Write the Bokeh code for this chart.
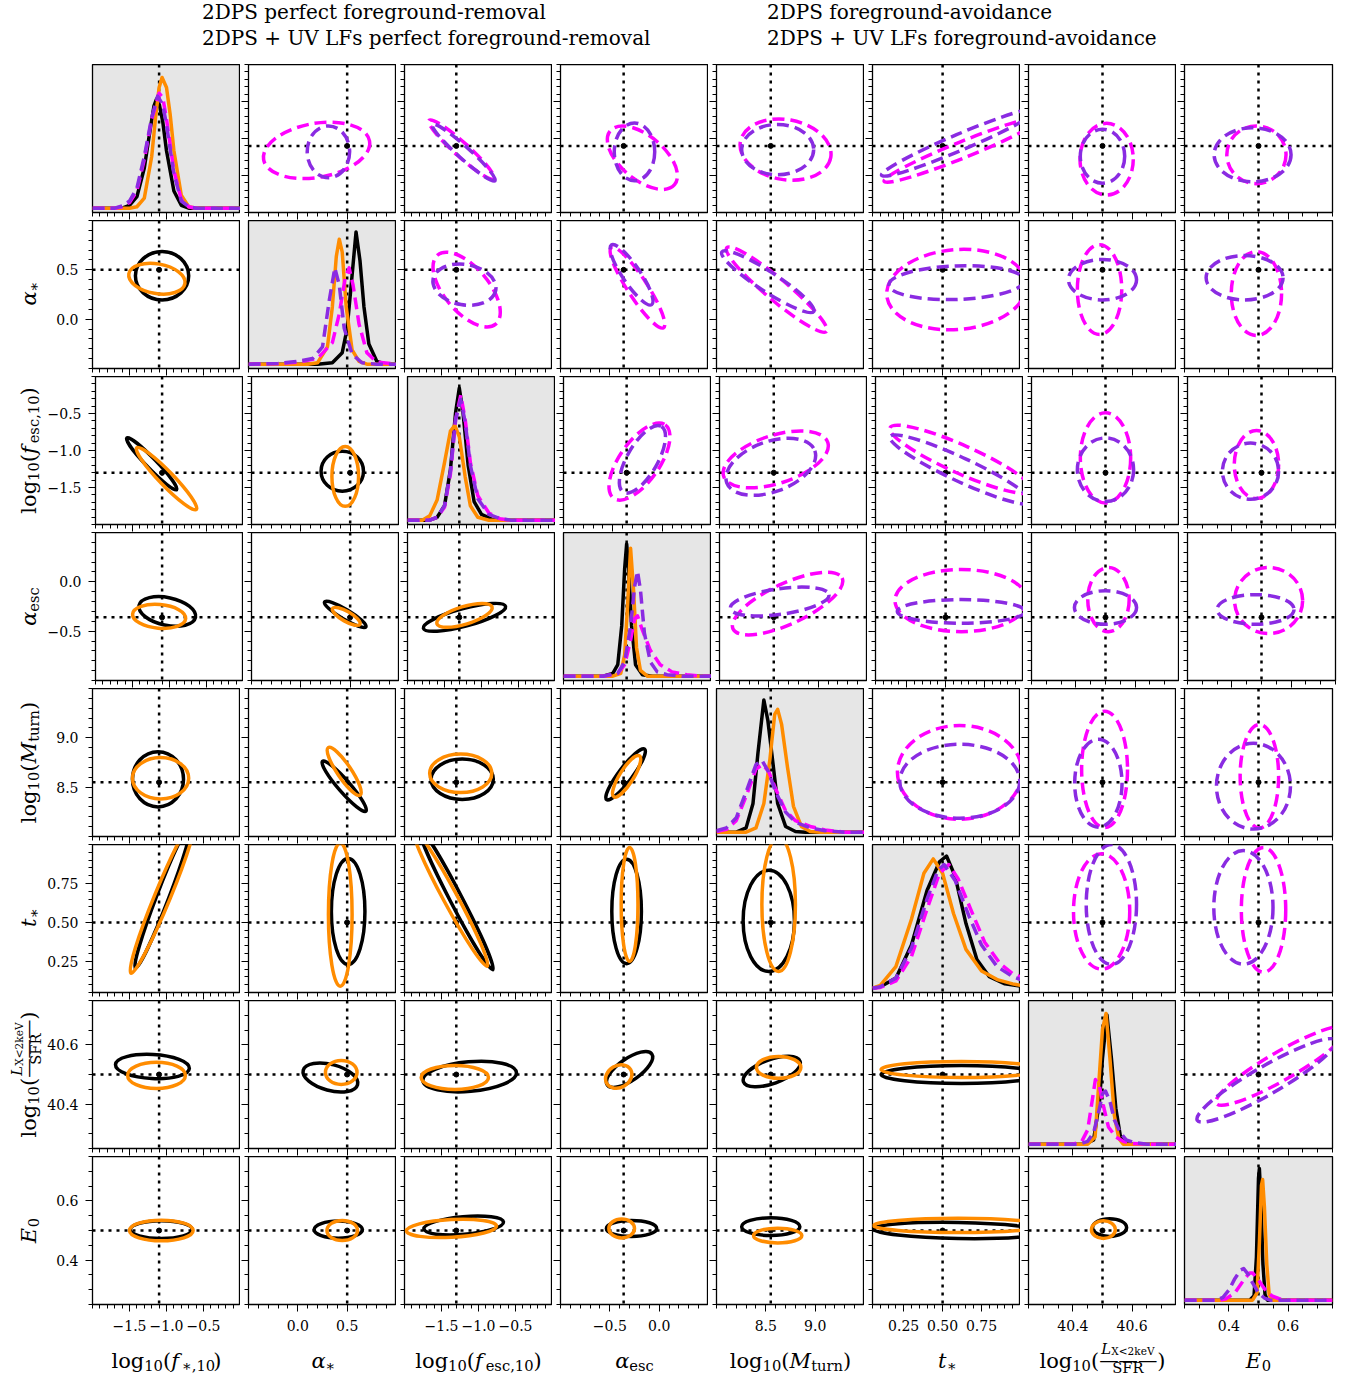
import math
from bokeh.plotting import figure
from bokeh.layouts import column, row
from bokeh.models import Range1d, FixedTicker, Span, Label, Legend, LegendItem
from bokeh.embed import file_html
from bokeh.resources import INLINE

# ---------------- parameters / axes ----------------
lo = [-2.0, -0.5, -2.0, -1.0, 8.0, 0.05, 40.25, 0.25]
hi = [0.0, 1.0, 0.0, 0.5, 9.5, 1.0, 40.75, 0.75]
truth = [-1.1, 0.5, -1.3, -0.36, 8.55, 0.5, 40.5, 0.5]
major_ticks = [[-1.5, -1.0, -0.5], [0.0, 0.5], [-1.5, -1.0, -0.5], [-0.5, 0.0],
               [8.5, 9.0], [0.25, 0.5, 0.75], [40.4, 40.6], [0.4, 0.6]]
major_labels = [["−1.5", "−1.0", "−0.5"], ["0.0", "0.5"], ["−1.5", "−1.0", "−0.5"], ["−0.5", "0.0"],
                ["8.5", "9.0"], ["0.25", "0.50", "0.75"], ["40.4", "40.6"], ["0.4", "0.6"]]
minor_step = [0.1, 0.1, 0.1, 0.1, 0.1, 0.05, 0.05, 0.05]

legend_labels = ["2DPS perfect foreground-removal",
                 "2DPS + UV LFs perfect foreground-removal",
                 "2DPS foreground-avoidance",
                 "2DPS + UV LFs foreground-avoidance"]

# ---------------- 1D marginals (diagonal) ----------------
pdf_black_x = [
    [-2.0, -1.6, -1.5, -1.4, -1.3, -1.22, -1.17, -1.135, -1.1, -1.05, -1.0, -0.9, -0.8, -0.7, 0.0],
    [-0.5, 0.2, 0.35, 0.45, 0.5, 0.55, 0.59, 0.63, 0.67, 0.72, 0.8, 0.9, 1.0],
    [-2.0, -1.7, -1.6, -1.5, -1.42, -1.35, -1.3, -1.25, -1.18, -1.1, -1.0, -0.85, -0.7, 0.0],
    [-1.0, -0.6, -0.5, -0.45, -0.41, -0.38, -0.36, -0.34, -0.31, -0.27, -0.2, -0.1, 0.5],
    [8.0, 8.2, 8.3, 8.37, 8.42, 8.48, 8.52, 8.56, 8.62, 8.7, 8.8, 8.9, 9.5],
    [0.05, 0.1, 0.2, 0.3, 0.4, 0.48, 0.525, 0.58, 0.65, 0.72, 0.8, 0.9, 1.0],
    [40.25, 40.44, 40.47, 40.49, 40.5, 40.515, 40.53, 40.545, 40.56, 40.58, 40.6, 40.75],
    [0.25, 0.47, 0.485, 0.493, 0.5, 0.503, 0.508, 0.515, 0.522, 0.53, 0.75],
]
pdf_black_y = [
    [0, 0, 0.02, 0.08, 0.28, 0.55, 0.71, 0.76, 0.73, 0.60, 0.40, 0.12, 0.02, 0, 0],
    [0, 0, 0.01, 0.08, 0.25, 0.62, 0.92, 0.72, 0.40, 0.14, 0.02, 0, 0],
    [0, 0, 0.02, 0.10, 0.35, 0.75, 0.92, 0.75, 0.38, 0.13, 0.04, 0.005, 0, 0],
    [0, 0, 0.02, 0.08, 0.35, 0.75, 0.92, 0.75, 0.35, 0.08, 0.01, 0, 0],
    [0, 0, 0.03, 0.2, 0.55, 0.92, 0.78, 0.55, 0.2, 0.04, 0.005, 0, 0],
    [0.0, 0.01, 0.07, 0.3, 0.68, 0.88, 0.92, 0.78, 0.45, 0.2, 0.08, 0.03, 0.015],
    [0, 0, 0.03, 0.3, 0.6, 0.9, 0.6, 0.25, 0.06, 0.01, 0, 0],
    [0, 0, 0.03, 0.3, 0.85, 0.916, 0.7, 0.25, 0.04, 0, 0],
]
pdf_orange_x = [
    [-2.0, -1.5, -1.4, -1.3, -1.2, -1.15, -1.1, -1.06, -1.0, -0.95, -0.9, -0.8, -0.7, -0.6, 0.0],
    [-0.5, 0.1, 0.2, 0.3, 0.35, 0.39, 0.42, 0.45, 0.49, 0.55, 0.62, 0.7, 1.0],
    [-2.0, -1.8, -1.7, -1.6, -1.5, -1.42, -1.36, -1.3, -1.22, -1.15, -1.05, -0.9, 0.0],
    [-1.0, -0.5, -0.42, -0.38, -0.35, -0.32, -0.29, -0.26, -0.22, -0.15, 0.5],
    [8.0, 8.3, 8.4, 8.48, 8.54, 8.59, 8.62, 8.66, 8.72, 8.78, 8.86, 8.95, 9.05, 9.5],
    [0.05, 0.1, 0.2, 0.3, 0.38, 0.44, 0.5, 0.57, 0.65, 0.75, 0.85, 0.95, 1.0],
    [40.25, 40.45, 40.475, 40.49, 40.5, 40.512, 40.525, 40.54, 40.555, 40.57, 40.75],
    [0.25, 0.48, 0.495, 0.503, 0.51, 0.514, 0.52, 0.528, 0.536, 0.545, 0.75],
]
pdf_orange_y = [
    [0, 0, 0.01, 0.07, 0.36, 0.62, 0.84, 0.91, 0.84, 0.65, 0.40, 0.09, 0.01, 0, 0],
    [0, 0, 0.01, 0.12, 0.40, 0.75, 0.87, 0.78, 0.40, 0.10, 0.02, 0, 0],
    [0, 0, 0.03, 0.14, 0.40, 0.62, 0.66, 0.58, 0.30, 0.10, 0.02, 0, 0],
    [0, 0, 0.02, 0.15, 0.5, 0.89, 0.6, 0.2, 0.04, 0, 0],
    [0, 0, 0.03, 0.2, 0.5, 0.82, 0.855, 0.75, 0.45, 0.18, 0.04, 0.005, 0, 0],
    [0.0, 0.02, 0.15, 0.48, 0.8, 0.9, 0.8, 0.52, 0.27, 0.12, 0.06, 0.03, 0.02],
    [0, 0, 0.05, 0.5, 0.8, 0.91, 0.6, 0.2, 0.04, 0, 0],
    [0, 0, 0.05, 0.4, 0.8, 0.84, 0.65, 0.25, 0.04, 0, 0],
]
pdf_magenta_x = [
    [-2.0, -1.7, -1.6, -1.5, -1.4, -1.3, -1.2, -1.1, -1.05, -1.0, -0.9, -0.8, -0.7, -0.6, 0.0],
    [-0.5, -0.2, 0.0, 0.2, 0.35, 0.42, 0.48, 0.52, 0.56, 0.62, 0.7, 0.8, 1.0],
    [-2.0, -1.7, -1.6, -1.5, -1.42, -1.35, -1.28, -1.22, -1.15, -1.05, -0.9, -0.75, -0.6, 0.0],
    [-1.0, -0.6, -0.45, -0.38, -0.32, -0.28, -0.25, -0.2, -0.12, -0.02, 0.1, 0.25, 0.4, 0.5],
    [8.0, 8.1, 8.2, 8.3, 8.4, 8.47, 8.53, 8.6, 8.7, 8.8, 8.95, 9.1, 9.3, 9.5],
    [0.05, 0.1, 0.2, 0.3, 0.4, 0.48, 0.54, 0.6, 0.68, 0.77, 0.87, 0.95, 1.0],
    [40.25, 40.4, 40.43, 40.45, 40.465, 40.476, 40.49, 40.505, 40.52, 40.545, 40.57, 40.6, 40.65, 40.75],
    [0.25, 0.37, 0.39, 0.42, 0.45, 0.47, 0.48, 0.5, 0.52, 0.545, 0.57, 0.6, 0.75],
]
pdf_magenta_y = [
    [0, 0, 0.01, 0.04, 0.12, 0.34, 0.62, 0.80, 0.77, 0.62, 0.26, 0.06, 0.01, 0, 0],
    [0, 0.005, 0.015, 0.04, 0.15, 0.35, 0.6, 0.67, 0.55, 0.28, 0.08, 0.015, 0],
    [0, 0, 0.02, 0.09, 0.32, 0.7, 0.87, 0.7, 0.4, 0.17, 0.05, 0.01, 0, 0],
    [0, 0, 0.02, 0.08, 0.25, 0.4, 0.42, 0.32, 0.18, 0.08, 0.03, 0.01, 0, 0],
    [0.005, 0.02, 0.08, 0.25, 0.44, 0.47, 0.42, 0.3, 0.15, 0.08, 0.04, 0.015, 0, 0],
    [0.0, 0.005, 0.05, 0.22, 0.55, 0.8, 0.86, 0.76, 0.55, 0.32, 0.17, 0.1, 0.08],
    [0, 0, 0.02, 0.1, 0.3, 0.45, 0.4, 0.25, 0.12, 0.05, 0.02, 0.005, 0, 0],
    [0, 0, 0.01, 0.05, 0.14, 0.19, 0.19, 0.14, 0.08, 0.03, 0.01, 0, 0],
]
pdf_purple_x = [
    [-2.0, -1.7, -1.6, -1.5, -1.4, -1.3, -1.2, -1.12, -1.05, -1.0, -0.9, -0.8, -0.7, -0.6, 0.0],
    [-0.5, -0.2, 0.0, 0.15, 0.25, 0.32, 0.375, 0.42, 0.47, 0.55, 0.65, 0.8, 1.0],
    [-2.0, -1.7, -1.6, -1.5, -1.42, -1.35, -1.28, -1.22, -1.15, -1.05, -0.9, -0.75, -0.6, 0.0],
    [-1.0, -0.6, -0.45, -0.38, -0.32, -0.28, -0.25, -0.22, -0.18, -0.12, -0.05, 0.05, 0.2, 0.5],
    [8.0, 8.1, 8.2, 8.3, 8.4, 8.46, 8.52, 8.6, 8.7, 8.8, 8.95, 9.1, 9.3, 9.5],
    [0.05, 0.1, 0.2, 0.3, 0.4, 0.47, 0.51, 0.58, 0.67, 0.75, 0.85, 0.95, 1.0],
    [40.25, 40.42, 40.45, 40.47, 40.49, 40.5, 40.51, 40.525, 40.54, 40.56, 40.58, 40.61, 40.65, 40.75],
    [0.25, 0.36, 0.38, 0.4, 0.42, 0.44, 0.45, 0.465, 0.48, 0.5, 0.52, 0.54, 0.75],
]
pdf_purple_y = [
    [0, 0, 0.015, 0.05, 0.14, 0.36, 0.63, 0.78, 0.72, 0.58, 0.24, 0.05, 0.01, 0, 0],
    [0, 0.005, 0.02, 0.04, 0.12, 0.45, 0.67, 0.55, 0.25, 0.07, 0.01, 0, 0],
    [0, 0, 0.02, 0.1, 0.34, 0.7, 0.84, 0.68, 0.38, 0.15, 0.04, 0.01, 0, 0],
    [0, 0, 0.02, 0.1, 0.35, 0.62, 0.73, 0.6, 0.3, 0.1, 0.03, 0.01, 0, 0],
    [0.01, 0.03, 0.1, 0.28, 0.47, 0.5, 0.43, 0.28, 0.14, 0.07, 0.03, 0.01, 0, 0],
    [0.0, 0.01, 0.07, 0.28, 0.62, 0.82, 0.86, 0.75, 0.5, 0.3, 0.15, 0.08, 0.06],
    [0, 0, 0.02, 0.08, 0.25, 0.35, 0.37, 0.3, 0.17, 0.08, 0.03, 0.01, 0, 0],
    [0, 0, 0.02, 0.07, 0.15, 0.21, 0.22, 0.18, 0.12, 0.05, 0.015, 0, 0],
]

# ---------------- 2D contours (lower triangle: perfect foreground-removal) ----------------
lower_pairs = [(1, 0), (2, 0), (3, 0), (4, 0), (5, 0), (6, 0), (7, 0),
               (2, 1), (3, 1), (4, 1), (5, 1), (6, 1), (7, 1),
               (3, 2), (4, 2), (5, 2), (6, 2), (7, 2),
               (4, 3), (5, 3), (6, 3), (7, 3),
               (5, 4), (6, 4), (7, 4),
               (6, 5), (7, 5),
               (7, 6)]
black_x = [-1.06, -1.24, -1.03, -1.115, -1.05, -1.19, -1.07,
           0.42, 0.45, 0.47, 0.51, 0.33, 0.41,
           -1.23, -1.22, -1.30, -1.12, -1.20,
           -0.34, -0.33, -0.30, -0.28,
           8.53, 8.56, 8.55,
           0.62, 0.60,
           40.524]
black_y = [0.44, -1.18, -0.30, 8.58, 0.665, 40.527, 0.503,
           -1.28, -0.33, 8.51, 0.57, 40.49, 0.503,
           -0.36, 8.58, 0.647, 40.493, 0.517,
           8.63, 0.57, 40.517, 0.507,
           0.51, 40.51, 0.513,
           40.50, 0.50,
           0.51]
black_w = [0.72, 0.97, 0.78, 0.69, 2.07, 1.0, 0.84,
           0.43, 0.49, 0.67, 0.34, 0.57, 0.49,
           1.15, 0.84, 2.14, 1.27, 1.08,
           0.64, 0.30, 0.55, 0.51,
           0.52, 0.61, 0.59,
           1.03, 1.09,
           0.115]
black_h = [0.49, 0.135, 0.28, 0.56, 0.077, 0.081, 0.06,
           0.54, 0.10, 0.12, 0.68, 0.088, 0.058,
           0.18, 0.41, 0.077, 0.10, 0.06,
           0.14, 0.67, 0.074, 0.054,
           0.65, 0.081, 0.06,
           0.06, 0.054,
           0.06]
black_angle = [0, -46, -12, 0, 69, -3, 0,
               0, -31, -49, 0, -15, 0,
               15, 0, -62.5, 5, 5,
               53, 0, 35, 0,
               0, 20, 0,
               0, -1,
               0]
orange_x = [-1.13, -1.04, -1.14, -1.08, -1.05, -1.135, -1.07,
            0.45, 0.46, 0.47, 0.43, 0.44, 0.45,
            -1.23, -1.24, -1.38, -1.32, -1.365,
            -0.33, -0.30, -0.41, -0.38,
            8.63, 8.63, 8.62,
            0.62, 0.60,
            40.503]
orange_y = [0.41, -1.38, -0.35, 8.59, 0.67, 40.497, 0.50,
            -1.35, -0.35, 8.66, 0.55, 40.507, 0.50,
            -0.34, 8.64, 0.657, 40.49, 0.507,
            8.61, 0.615, 40.493, 0.507,
            0.615, 40.524, 0.483,
            40.517, 0.517,
            0.503]
orange_w = [0.77, 1.16, 0.72, 0.76, 2.26, 0.78, 0.86,
            0.27, 0.32, 0.58, 0.24, 0.32, 0.31,
            0.78, 0.84, 2.10, 0.91, 1.22,
            0.49, 0.17, 0.28, 0.26,
            0.34, 0.45, 0.49,
            1.03, 1.09,
            0.081]
orange_h = [0.30, 0.19, 0.24, 0.42, 0.10, 0.088, 0.07,
            0.81, 0.10, 0.14, 0.92, 0.081, 0.068,
            0.18, 0.39, 0.09, 0.081, 0.06,
            0.14, 0.73, 0.074, 0.064,
            0.86, 0.074, 0.05,
            0.054, 0.048,
            0.06]
orange_angle = [-10, -46, -5, 0, 67.6, 0, 0,
                0, -30, -56, 0, 0, 0,
                17, 0, -61.6, 0, 3,
                58, 0, 30, 0,
                0, 0, 0,
                0, 0,
                0]

# ---------------- 2D contours (upper triangle: foreground-avoidance) ----------------
upper_pairs = [(0, 1), (0, 2), (0, 3), (0, 4), (0, 5), (0, 6), (0, 7),
               (1, 2), (1, 3), (1, 4), (1, 5), (1, 6), (1, 7),
               (2, 3), (2, 4), (2, 5), (2, 6), (2, 7),
               (3, 4), (3, 5), (3, 6), (3, 7),
               (4, 5), (4, 6), (4, 7),
               (5, 6), (5, 7),
               (6, 7)]
magenta_x = [0.19, -1.23, -0.17, 8.70, 0.63, 40.514, 0.493,
             -1.16, -0.22, 8.61, 0.59, 40.49, 0.493,
             -0.23, 8.57, 0.60, 40.50, 0.483,
             8.69, 0.60, 40.51, 0.524,
             0.61, 40.507, 0.503,
             40.497, 0.517,
             0.578]
magenta_y = [-1.16, -1.15, -1.26, -1.15, -1.15, -1.28, -1.22,
             0.30, 0.32, 0.30, 0.30, 0.30, 0.26,
             -1.15, -1.12, -1.12, -1.10, -1.19,
             -0.22, -0.19, -0.18, -0.19,
             8.65, 8.68, 8.61,
             0.57, 0.58,
             40.53]
magenta_w = [1.09, 1.18, 0.85, 0.93, 1.09, 0.18, 0.20,
             1.22, 0.97, 1.32, 0.90, 0.15, 0.17,
             0.91, 1.11, 1.0, 0.17, 0.15,
             1.22, 0.85, 0.14, 0.23,
             0.80, 0.155, 0.13,
             0.19, 0.15,
             0.51]
magenta_h = [0.73, 0.19, 0.59, 0.81, 0.22, 0.97, 0.78,
             0.45, 0.20, 0.22, 0.81, 0.91, 0.85,
             0.54, 0.65, 0.38, 1.22, 0.92,
             0.41, 0.63, 0.65, 0.67,
             0.95, 1.18, 1.05,
             0.74, 0.80,
             0.095]
magenta_angle = [10, -42, -40, -10, 22, 0, 0,
                 -50, -57, -40, 5, 0, 0,
                 55, 18, -24, 0, 0,
                 25, 0, 0, 0,
                 0, 0, 0,
                 0, 0,
                 30]
purple_x = [0.31, -1.20, -0.25, 8.62, 0.61, 40.50, 0.48,
            -1.19, -0.28, 8.52, 0.59, 40.50, 0.453,
            -0.20, 8.52, 0.596, 40.50, 0.463,
            8.61, 0.60, 40.50, 0.48,
            0.61, 40.486, 0.483,
            40.53, 0.449,
            0.527]
purple_y = [-1.18, -1.19, -1.18, -1.15, -1.05, -1.24, -1.22,
            0.35, 0.45, 0.38, 0.37, 0.40, 0.42,
            -1.12, -1.22, -1.257, -1.26, -1.28,
            -0.20, -0.30, -0.26, -0.28,
            8.56, 8.54, 8.51,
            0.615, 0.596,
            40.48]
purple_w = [0.43, 1.14, 0.41, 0.73, 1.09, 0.15, 0.26,
            0.86, 0.73, 1.11, 0.87, 0.23, 0.26,
            0.77, 0.95, 1.0, 0.19, 0.19,
            1.01, 0.82, 0.21, 0.26,
            0.77, 0.16, 0.25,
            0.17, 0.20,
            0.54]
purple_h = [0.70, 0.16, 0.78, 0.68, 0.22, 0.73, 0.73,
            0.41, 0.18, 0.20, 0.34, 0.41, 0.45,
            0.41, 0.68, 0.32, 0.86, 0.76,
            0.26, 0.24, 0.34, 0.30,
            0.75, 0.89, 0.87,
            0.77, 0.73,
            0.095]
purple_angle = [0, -42, 0, 0, 23, 0, 0,
                -10, -56, -33, 2, 0, 0,
                60, 20, -25, 0, 0,
                8, 0, 0, 0,
                0, 0, 0,
                0, 0,
                30]

# ---------------- styling / geometry ----------------
C_BLACK = "black"
C_ORANGE = "#ff8c00"
C_MAGENTA = "#ff00ff"
C_PURPLE = "#8a2be2"
DASH = "12 6"
FONT = "DejaVu Serif"
LW = 3.5
FRAME = 148
GAP = 8
DIAG_BG = "#e6e6e6"
LEFT_STRIP = 44        # strip holding the rotated y labels
COL1_BORDER = 48       # room for the y tick labels
LEGEND_H = 64
BOTTOM_TICK_BORDER = 32
BOTTOM_STRIP = 40
GRID_W = COL1_BORDER + FRAME + 6 * (GAP + FRAME) + (GAP + FRAME + 4)
TOTAL_W = LEFT_STRIP + GRID_W
GRID_H = 7 * (FRAME + GAP) + FRAME + BOTTOM_TICK_BORDER

# DejaVu Serif advance widths (em)
W_R = {'l': 0.320, 'o': 0.602, 'g': 0.640, '0': 0.636, '1': 0.636, '2': 0.636, '(': 0.390, ')': 0.390,
       ',': 0.318, '∗': 0.55, 'e': 0.592, 's': 0.513, 'c': 0.560, 't': 0.402, 'u': 0.644, 'r': 0.478,
       'n': 0.644, 'k': 0.617, '<': 0.838, 'X': 0.755, 'V': 0.773, 'S': 0.685, 'F': 0.715, 'R': 0.770}
W_I = {'f': 0.370, 'α': 0.660, 'M': 0.995, 't': 0.402, 'E': 0.734, 'L': 0.668}
ITAL_CORR = {'f': 0.14, 'M': 0.04, 't': 0.03, 'E': 0.03, 'α': 0.0, 'L': 0.02}


def tw(text, italic, size):
    tab = W_I if italic else W_R
    return sum(tab.get(c, W_R.get(c, 0.6)) for c in text) * size


SUB = 0.7
DROP = 0.22
axis_label_specs = [
    [("log", False, 1, 0), ("10", False, SUB, DROP), ("(", False, 1, 0), ("f", True, 1, 0),
     ("∗,10", False, SUB, DROP), (")", False, 1, 0)],
    [("α", True, 1, 0), ("∗", False, SUB, DROP)],
    [("log", False, 1, 0), ("10", False, SUB, DROP), ("(", False, 1, 0), ("f", True, 1, 0),
     ("esc,10", False, SUB, DROP), (")", False, 1, 0)],
    [("α", True, 1, 0), ("esc", False, SUB, DROP)],
    [("log", False, 1, 0), ("10", False, SUB, DROP), ("(", False, 1, 0), ("M", True, 1, 0),
     ("turn", False, SUB, DROP), (")", False, 1, 0)],
    [("t", True, 1, 0), ("∗", False, SUB, DROP)],
    [("log", False, 1, 0), ("10", False, SUB, DROP), ("(", False, 1, 0),
     ("FRAC", [("L", True, 0.7, 0), ("X<2keV", False, 0.5, 0.12)], [("SFR", False, 0.7, 0)]),
     (")", False, 1, 0)],
    [("E", True, 1, 0), ("0", False, SUB, DROP)],
]


def layout_label(spec, fs):
    pieces = []  # (text, italic, size, along, perp) ; perp positive = below baseline
    pos = 0.0
    for item in spec:
        if item[0] == "FRAC":
            _, num, den = item
            num_w = sum(tw(t, it, s * fs) for t, it, s, d in num)
            den_w = sum(tw(t, it, s * fs) for t, it, s, d in den)
            bw = max(num_w, den_w) + 0.2 * fs
            a = pos + (bw - num_w) / 2
            for t, it, s, d in num:
                pieces.append((t, it, s * fs, a, (-0.55 + d) * fs))
                a += tw(t, it, s * fs) + (ITAL_CORR.get(t[-1], 0) * s * fs if it else 0)
            a = pos + (bw - den_w) / 2
            for t, it, s, d in den:
                pieces.append((t, it, s * fs, a, (0.33 + d) * fs))
                a += tw(t, it, s * fs)
            n = 3
            ds = bw / n
            pieces.append(("—" * n, False, ds, pos, -0.27 * fs + 0.3 * ds))
            pos += bw
        else:
            t, it, s, d = item
            pieces.append((t, it, s * fs, pos, d * fs))
            pos += tw(t, it, s * fs)
            if it:
                pos += ITAL_CORR.get(t[-1], 0) * s * fs
    return pieces, pos


def label_kw(t, it, size):
    return dict(text=t, text_font=FONT, text_font_size=f"{size:.1f}px",
                text_font_style="italic" if it else "normal",
                text_align="left", text_baseline="alphabetic", text_color="black")


def add_x_label(strip, k, cx, base_y, fs=21):
    pieces, total = layout_label(axis_label_specs[k], fs)
    for t, it, size, a, perp in pieces:
        strip.add_layout(Label(x=cx + a - total / 2, y=base_y - perp, **label_kw(t, it, size)))


def add_y_label(strip, k, base_x, cy, fs=21):
    pieces, total = layout_label(axis_label_specs[k], fs)
    for t, it, size, a, perp in pieces:
        strip.add_layout(Label(x=base_x + perp, y=cy + a - total / 2, angle=math.pi / 2,
                               **label_kw(t, it, size)))


def minor_list(k):
    step = minor_step[k]
    m = math.ceil(lo[k] / step - 1e-9)
    vals = []
    while m * step <= hi[k] + 1e-9:
        vals.append(round(m * step, 4))
        m += 1
    return vals


def style_axis(ax, k, show_labels, standoff):
    ax.ticker = FixedTicker(ticks=major_ticks[k], minor_ticks=minor_list(k))
    ax.axis_line_color = None
    ax.major_tick_in = 0
    ax.major_tick_out = 7
    ax.minor_tick_in = 0
    ax.minor_tick_out = 4
    ax.major_tick_line_color = "black"
    ax.minor_tick_line_color = "black"
    ax.major_tick_line_width = 1
    ax.minor_tick_line_width = 1
    if show_labels:
        ax.major_label_overrides = {t: s for t, s in zip(major_ticks[k], major_labels[k])}
        ax.major_label_text_font = FONT
        ax.major_label_text_font_size = "14px"
        ax.major_label_standoff = standoff
        ax.major_label_text_color = "black"
    else:
        ax.major_label_text_font_size = "0px"
        ax.major_label_text_color = None
        ax.major_label_standoff = 0


def make_panel(i, j):
    left = COL1_BORDER if j == 0 else GAP
    right = 4 if j == 7 else 0
    bottom = BOTTOM_TICK_BORDER if i == 7 else GAP
    yr = Range1d(-0.03, 1.0) if i == j else Range1d(lo[i], hi[i])
    p = figure(frame_width=FRAME, frame_height=FRAME, x_range=Range1d(lo[j], hi[j]), y_range=yr,
               min_border_left=left, min_border_right=right, min_border_top=0, min_border_bottom=bottom,
               output_backend="svg", toolbar_location=None,
               background_fill_color=DIAG_BG if i == j else "white", border_fill_color="white",
               outline_line_color="black", outline_line_width=1.3)
    p.xgrid.visible = False
    p.ygrid.visible = False
    style_axis(p.xaxis[0], j, i == 7, 8)
    if i == j:
        p.yaxis.visible = False
    else:
        style_axis(p.yaxis[0], i, j == 0, 7)

    p.add_layout(Span(location=truth[j], dimension="height", line_color="black", line_width=2.5,
                      line_dash="3 5", level="underlay"))
    if i == j:
        p.line(pdf_black_x[i], pdf_black_y[i], line_color=C_BLACK, line_width=LW, line_join="round")
        p.line(pdf_orange_x[i], pdf_orange_y[i], line_color=C_ORANGE, line_width=LW, line_join="round")
        p.line(pdf_magenta_x[i], pdf_magenta_y[i], line_color=C_MAGENTA, line_width=LW, line_dash=DASH,
               line_join="round")
        p.line(pdf_purple_x[i], pdf_purple_y[i], line_color=C_PURPLE, line_width=LW, line_dash=DASH,
               line_join="round")
    else:
        p.add_layout(Span(location=truth[i], dimension="width", line_color="black", line_width=2.5,
                          line_dash="3 5", level="underlay"))
        p.scatter([truth[j]], [truth[i]], marker="circle", size=5, color="black")
        if i > j:
            k = lower_pairs.index((i, j))
            series = [(black_x, black_y, black_w, black_h, black_angle, C_BLACK, "solid"),
                      (orange_x, orange_y, orange_w, orange_h, orange_angle, C_ORANGE, "solid")]
        else:
            k = upper_pairs.index((i, j))
            series = [(magenta_x, magenta_y, magenta_w, magenta_h, magenta_angle, C_MAGENTA, DASH),
                      (purple_x, purple_y, purple_w, purple_h, purple_angle, C_PURPLE, DASH)]
        for xs, ys, ws, hs, angs, col, dash in series:
            p.ellipse(x=[xs[k]], y=[ys[k]], width=[ws[k]], height=[hs[k]], angle=[angs[k]],
                      angle_units="deg", fill_color=None, line_color=col, line_width=LW, line_dash=dash)
    return p


def blank_strip(w, h):
    s = figure(width=w, height=h, min_border=0, x_range=Range1d(0, w), y_range=Range1d(0, h),
               output_backend="svg", toolbar_location=None, outline_line_color=None)
    s.axis.visible = False
    s.xgrid.visible = False
    s.ygrid.visible = False
    return s


# ---------------- legend strip ----------------
leg = blank_strip(TOTAL_W, LEGEND_H)
r_black = leg.line(x=[], y=[], line_color=C_BLACK, line_width=4)
r_orange = leg.line(x=[], y=[], line_color=C_ORANGE, line_width=4)
r_magenta = leg.line(x=[], y=[], line_color=C_MAGENTA, line_width=4, line_dash="15 6")
r_purple = leg.line(x=[], y=[], line_color=C_PURPLE, line_width=4, line_dash="15 6")

for items, xloc in (([LegendItem(label=legend_labels[0], renderers=[r_black]),
                      LegendItem(label=legend_labels[1], renderers=[r_orange])], 152),
                    ([LegendItem(label=legend_labels[2], renderers=[r_magenta]),
                      LegendItem(label=legend_labels[3], renderers=[r_purple])], 717)):
    lg = Legend(items=items, location=(xloc, 14), orientation="vertical",
                label_text_font=FONT, label_text_font_size="20px", label_text_color="black",
                glyph_width=37, glyph_height=20, label_height=20, label_standoff=13, spacing=2,
                padding=0, margin=0, border_line_color=None, background_fill_alpha=0)
    leg.add_layout(lg)

# ---------------- axis-label strips ----------------
left_strip = blank_strip(LEFT_STRIP, GRID_H)
for i in range(1, 8):
    cy = GRID_H - (FRAME / 2 + i * (FRAME + GAP))
    add_y_label(left_strip, i, 28, cy)

bottom_strip = blank_strip(TOTAL_W, BOTTOM_STRIP)
for j in range(8):
    cx = LEFT_STRIP + COL1_BORDER + FRAME / 2 + j * (FRAME + GAP)
    add_x_label(bottom_strip, j, cx, 16)

grid_rows = [row(*[make_panel(i, j) for j in range(8)]) for i in range(8)]
layout = column(leg, row(left_strip, column(*grid_rows)), bottom_strip)
html = file_html(layout, INLINE, title="Corner plot")
open("out.html", "w").write(html)
